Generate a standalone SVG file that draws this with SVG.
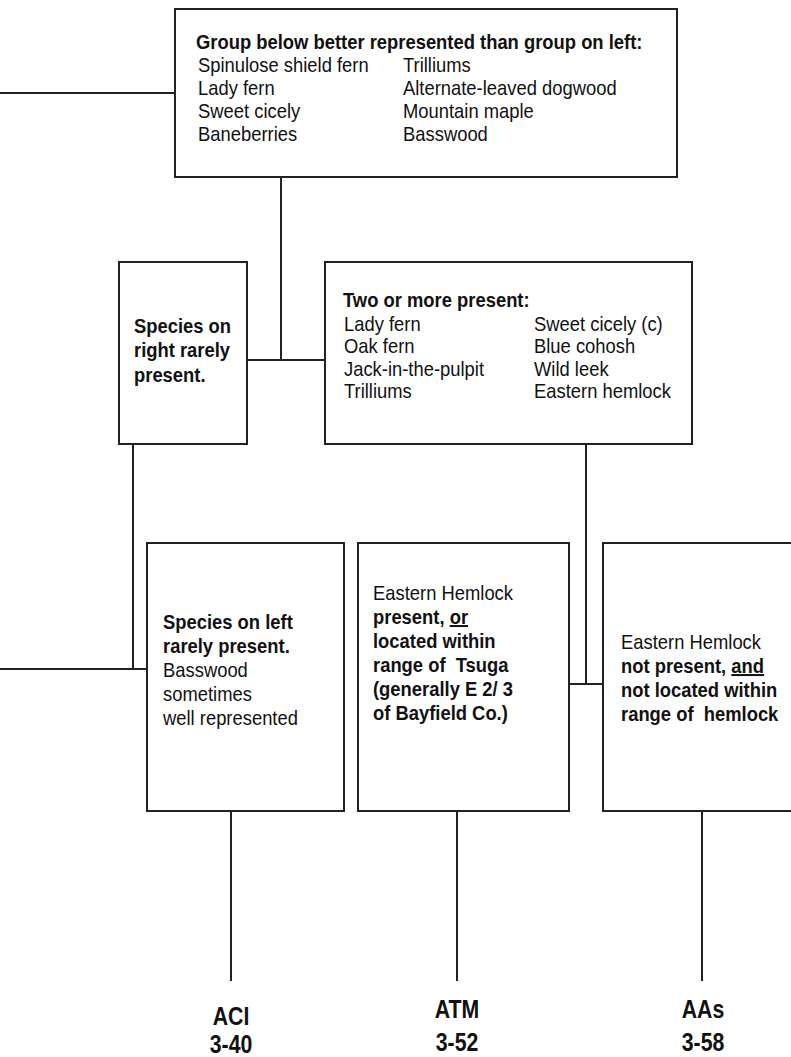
<svg xmlns="http://www.w3.org/2000/svg" width="791" height="1057" viewBox="0 0 791 1057">
  <style>
    .box { fill: #fff; stroke: #222; stroke-width: 2; }
    .wire { fill: none; stroke: #222; stroke-width: 2; }
    text { font-family: "Liberation Sans", Arial, sans-serif; font-size: 20px; fill: #111; }
    .b { font-weight: bold; }
    .u { text-decoration: underline; }
    .code { font-size: 25px; font-weight: bold; text-anchor: middle; }
  </style>
  <rect width="791" height="1057" fill="#fff"/>

  <!-- connectors -->
  <g id="connectors">
    <path class="wire" d="M0 93 H175"/>
    <path class="wire" d="M281 177 V360"/>
    <path class="wire" d="M247 360 H325"/>
    <path class="wire" d="M133 444 V669 M0 669 H147"/>
    <path class="wire" d="M586 444 V684 M569 684 H603"/>
    <path class="wire" d="M231 811 V981"/>
    <path class="wire" d="M457 811 V981"/>
    <path class="wire" d="M702 811 V981"/>
  </g>

  <!-- top decision box; text is set narrow to mimic a condensed face -->
  <g id="group-better">
    <rect class="box" x="175" y="9" width="502" height="168"/>
    <text class="b" transform="translate(196 49) scale(.92 1)">Group below better represented than group on left:</text>
    <text transform="translate(198 72) scale(.92 1)">Spinulose shield fern</text>
    <text transform="translate(198 95) scale(.92 1)">Lady fern</text>
    <text transform="translate(198 118) scale(.92 1)">Sweet cicely</text>
    <text transform="translate(198 141) scale(.92 1)">Baneberries</text>
    <text transform="translate(403 72) scale(.92 1)">Trilliums</text>
    <text transform="translate(403 95) scale(.92 1)">Alternate-leaved dogwood</text>
    <text transform="translate(403 118) scale(.92 1)">Mountain maple</text>
    <text transform="translate(403 141) scale(.92 1)">Basswood</text>
  </g>

  <!-- middle row -->
  <g id="right-rare">
    <rect class="box" x="119" y="262" width="128" height="182"/>
    <text class="b" transform="translate(134 333) scale(.92 1)">Species on</text>
    <text class="b" transform="translate(134 357) scale(.92 1)">right rarely</text>
    <text class="b" transform="translate(134 382) scale(.92 1)">present.</text>
  </g>

  <g id="two-or-more">
    <rect class="box" x="325" y="262" width="367" height="182"/>
    <text class="b" transform="translate(343 307) scale(.92 1)">Two or more present:</text>
    <text transform="translate(344 331) scale(.92 1)">Lady fern</text>
    <text transform="translate(344 353) scale(.92 1)">Oak fern</text>
    <text transform="translate(344 376) scale(.92 1)">Jack-in-the-pulpit</text>
    <text transform="translate(344 398) scale(.92 1)">Trilliums</text>
    <text transform="translate(534 331) scale(.92 1)">Sweet cicely (c)</text>
    <text transform="translate(534 353) scale(.92 1)">Blue cohosh</text>
    <text transform="translate(534 376) scale(.92 1)">Wild leek</text>
    <text transform="translate(534 398) scale(.92 1)">Eastern hemlock</text>
  </g>

  <!-- bottom row -->
  <g id="aci-box">
    <rect class="box" x="147" y="543" width="197" height="268"/>
    <text class="b" transform="translate(163 629) scale(.92 1)">Species on left</text>
    <text class="b" transform="translate(163 653) scale(.92 1)">rarely present.</text>
    <text transform="translate(163 677) scale(.92 1)">Basswood</text>
    <text transform="translate(163 701) scale(.92 1)">sometimes</text>
    <text transform="translate(163 725) scale(.92 1)">well represented</text>
  </g>

  <g id="atm-box">
    <rect class="box" x="358" y="543" width="211" height="268"/>
    <text transform="translate(373 600) scale(.92 1)">Eastern Hemlock</text>
    <text class="b" transform="translate(373 624) scale(.92 1)">present, <tspan class="u">or</tspan></text>
    <text class="b" transform="translate(373 648) scale(.92 1)">located within</text>
    <text class="b" transform="translate(373 672) scale(.92 1)" xml:space="preserve">range of  Tsuga</text>
    <text class="b" transform="translate(373 696) scale(.92 1)">(generally E 2/ 3</text>
    <text class="b" transform="translate(373 720) scale(.92 1)">of Bayfield Co.)</text>
  </g>

  <g id="aas-box">
    <rect class="box" x="603" y="543" width="200" height="268"/>
    <text transform="translate(621 649) scale(.92 1)">Eastern Hemlock</text>
    <text class="b" transform="translate(621 673) scale(.92 1)">not present, <tspan class="u">and</tspan></text>
    <text class="b" transform="translate(621 697) scale(.92 1)">not located within</text>
    <text class="b" transform="translate(621 721) scale(.92 1)" xml:space="preserve">range of  hemlock</text>
  </g>

  <!-- community type codes -->
  <g id="aci-label">
    <text class="code" transform="translate(231 1025) scale(.85 1)">ACI</text>
    <text class="code" transform="translate(231 1053) scale(.85 1)">3-40</text>
  </g>
  <g id="atm-label">
    <text class="code" transform="translate(457 1018) scale(.85 1)">ATM</text>
    <text class="code" transform="translate(457 1051) scale(.85 1)">3-52</text>
  </g>
  <g id="aas-label">
    <text class="code" transform="translate(703 1018) scale(.85 1)">AAs</text>
    <text class="code" transform="translate(703 1051) scale(.85 1)">3-58</text>
  </g>
</svg>
